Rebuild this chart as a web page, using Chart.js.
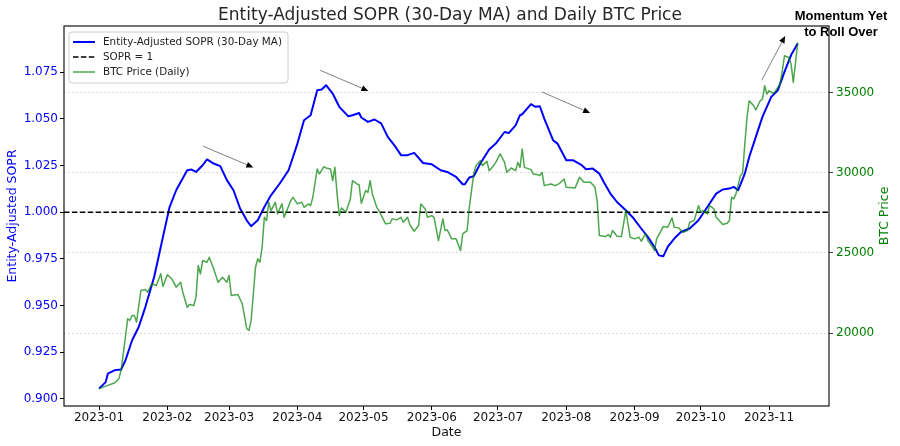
<!DOCTYPE html>
<html><head><meta charset="utf-8">
<script src="https://cdn.jsdelivr.net/npm/chart.js@4.4.0/dist/chart.umd.min.js"></script>
<style>html,body{margin:0;padding:0;background:#fff;}canvas{display:block;}</style>
</head><body>
<canvas id="c" width="900" height="446"></canvas>
<script>
// ---- DATA (x values are days since 2023-01-01) ----
const soprDays = [
  0,3,4,7,10,12,15,18,21,25,
  27,29,32,35,40,42,44,47,49,52,
  55,58,61,64,67,69,72,75,78,82,
  86,88,90,93,96,99,101,103,106,109,
  113,115,118,119,122,125,128,131,134,137,
  140,143,147,151,155,158,162,165,166,168,
  170,173,177,180,184,186,189,191,192,196,
  198,200,202,206,208,212,215,219,221,224,
  227,229,232,235,239,242,246,249,252,254,
  256,258,261,264,268,272,276,280,283,286,
  288,290,293,295,298,301,305,308,311,314,317];
const soprValues = [
  0.9055,0.9090,0.9135,0.9153,0.9157,0.9207,0.9314,0.9385,0.9492,0.9653,
  0.9760,0.9868,1.0028,1.0118,1.0225,1.0229,1.0216,1.0252,1.0283,1.0261,
  1.0247,1.0172,1.0118,1.0020,0.9957,0.9925,0.9957,1.0028,1.0091,1.0154,
  1.0225,1.0296,1.0368,1.0493,1.0520,1.0654,1.0658,1.0681,1.0636,1.0565,
  1.0515,1.0520,1.0532,1.0508,1.0484,1.0497,1.0476,1.0404,1.0359,1.0306,
  1.0306,1.0318,1.0264,1.0257,1.0225,1.0216,1.0189,1.0150,1.0150,1.0186,
  1.0193,1.0261,1.0336,1.0368,1.0430,1.0425,1.0466,1.0520,1.0525,1.0579,
  1.0565,1.0568,1.0502,1.0386,1.0368,1.0279,1.0279,1.0252,1.0231,1.0234,
  1.0207,1.0162,1.0100,1.0055,1.0011,0.9975,0.9913,0.9868,0.9814,0.9769,
  0.9764,0.9814,0.9859,0.9894,0.9913,0.9957,1.0028,1.0100,1.0122,1.0127,
  1.0136,1.0118,1.0207,1.0296,1.0404,1.0511,1.0618,1.0654,1.0752,1.0842,1.0904];
const btcDays = [
  0,4,7,9,10,11,13,14,15,16,
  17,19,21,22,24,26,28,29,31,33,
  35,37,38,40,41,43,44,45,46,47,
  49,50,52,54,56,58,59,60,63,65,
  67,68,69,71,72,73,74,75,76,77,
  78,80,81,83,84,87,88,90,92,93,
  95,96,97,99,100,102,103,105,106,107,
  108,109,110,112,114,115,117,118,119,121,
  122,123,124,126,127,130,132,133,135,137,
  138,140,141,143,145,146,148,149,151,152,
  154,156,157,158,160,162,164,165,167,168,
  170,171,173,174,176,177,179,180,182,184,
  185,187,189,190,191,192,193,196,197,199,
  200,201,202,205,207,209,211,212,216,218,
  220,223,225,226,227,230,231,232,233,235,
  237,239,240,241,243,245,246,248,249,251,
  252,253,255,256,258,260,261,263,265,267,
  268,270,272,273,274,276,277,279,280,283,
  285,286,287,288,289,291,292,293,294,295,
  297,298,300,301,302,303,304,306,307,309,
  310,311,313,314,315,317];
const btcValues = [
  16537,16743,16886,17160,17676,18716,20894,20788,21100,21100,
  20683,22656,22718,22550,23073,22967,23695,22905,23633,23384,
  22861,23172,22550,21616,21784,21722,22239,24212,23695,24523,
  24417,24728,24006,23172,23484,23172,23589,22344,22407,21828,
  20272,20166,20788,24106,24629,24417,25351,27218,27012,28151,
  27635,28151,27430,28052,27218,28257,28463,28052,28151,27840,
  28052,27946,28463,30230,29919,30373,30293,30230,29502,30330,
  28674,27324,27803,27529,28363,29502,29297,29253,28089,28880,
  28774,29502,28674,27840,27635,26807,26844,27118,27056,27218,
  26907,27218,26764,26347,26701,28052,27741,27218,27324,27218,
  25768,27118,26390,26434,25873,25873,25145,26185,26390,27840,
  29919,30436,30747,30436,30703,30124,30436,30641,31164,30641,
  30019,30293,30124,30641,30330,31475,30330,30187,29919,29876,
  29813,30019,29191,29297,29191,29334,29608,29085,29048,29707,
  29396,29396,29085,28257,26079,26017,26141,25973,26390,26035,
  26017,27635,26807,25973,25873,25973,25724,26185,25768,25394,
  25145,25873,26390,26639,26595,27181,26595,26558,26284,26390,
  26907,27012,27946,27529,27635,27430,27946,27741,27218,26764,
  26844,27012,28463,28363,28674,29813,29956,31786,33442,34481,
  34170,33903,34481,34587,35415,34898,35104,34936,35104,35521,
  36348,37282,37176,36766,35620,38110];
const soprRefLevel = 1.0;
const monthDays = [0,31,59,90,120,151,181,212,243,273,304];
const monthLabels = ['2023-01','2023-02','2023-03','2023-04','2023-05','2023-06','2023-07','2023-08','2023-09','2023-10','2023-11'];
const soprTicks = [0.900,0.925,0.950,0.975,1.000,1.025,1.050,1.075];
const btcTicks = [20000,25000,30000,35000];
const seriesNames = ['Entity-Adjusted SOPR (30-Day MA)','SOPR = 1','BTC Price (Daily)'];
const chartTitle = 'Entity-Adjusted SOPR (30-Day MA) and Daily BTC Price';
const xTitle = 'Date', yTitle = 'Entity-Adjusted SOPR', y2Title = 'BTC Price';
const noteLines = ['Momentum Yet','to Roll Over'];
// arrows: [fromDay, fromSOPR, toDay, toSOPR]
const arrows = [[47.2,1.0354,70.0,1.0240],[100.3,1.0761,122.2,1.0650],[200.9,1.0645,222.8,1.0532],[300.7,1.0708,311.3,1.0944]];

// ---- STYLE ----
const X_MIN = -15.9, X_MAX = 331.2;
const BLUE = '#0000ff', GREEN_LINE = 'rgba(0,128,0,0.7)', GREEN = '#008000';
const FONT = "'DejaVu Sans', sans-serif";
const DASH = [5.5, 2.4];

const decor = {
  id: 'decor',
  afterDatasetsDraw(chart) {
    const {ctx, chartArea: a, scales} = chart;
    ctx.save();
    arrows.forEach(([x1, y1, x2, y2]) => {
      const p1x = scales.x.getPixelForValue(x1), p1y = scales.y.getPixelForValue(y1);
      const p2x = scales.x.getPixelForValue(x2), p2y = scales.y.getPixelForValue(y2);
      const ang = Math.atan2(p2y - p1y, p2x - p1x);
      const L = 7, W = 3;
      const bx = p2x - L * Math.cos(ang), by = p2y - L * Math.sin(ang);
      ctx.strokeStyle = '#808080'; ctx.lineWidth = 1; ctx.setLineDash([]);
      ctx.beginPath(); ctx.moveTo(p1x, p1y); ctx.lineTo(bx, by); ctx.stroke();
      ctx.fillStyle = '#000';
      ctx.beginPath(); ctx.moveTo(p2x, p2y);
      ctx.lineTo(bx - W * Math.sin(ang), by + W * Math.cos(ang));
      ctx.lineTo(bx + W * Math.sin(ang), by - W * Math.cos(ang));
      ctx.closePath(); ctx.fill();
    });
    ctx.strokeStyle = '#000'; ctx.lineWidth = 1.1;
    ctx.strokeRect(a.left, a.top, a.right - a.left, a.bottom - a.top);
    ctx.restore();
  },
  afterDraw(chart) {
    const {ctx, chartArea: a} = chart;
    ctx.save();
    const lx = a.left + 5, ly = a.top + 6, lw = 219, lh = 51;
    ctx.beginPath();
    ctx.roundRect(lx, ly, lw, lh, 3);
    ctx.fillStyle = 'rgba(255,255,255,0.85)'; ctx.fill();
    ctx.strokeStyle = '#cccccc'; ctx.lineWidth = 1; ctx.stroke();
    const rows = [
      {c: BLUE, w: 2, d: []},
      {c: '#000', w: 1.5, d: DASH},
      {c: GREEN_LINE, w: 1.5, d: []}
    ];
    ctx.font = '10.4px ' + FONT; ctx.textBaseline = 'middle'; ctx.textAlign = 'left';
    rows.forEach((r, i) => {
      const y = ly + 10 + i * 15;
      ctx.strokeStyle = r.c; ctx.lineWidth = r.w; ctx.setLineDash(r.d);
      ctx.beginPath(); ctx.moveTo(lx + 4, y); ctx.lineTo(lx + 26, y); ctx.stroke();
      ctx.setLineDash([]);
      ctx.fillStyle = '#222';
      ctx.fillText(seriesNames[i], lx + 34, y);
    });
    ctx.save();
    ctx.translate(885, (a.top + a.bottom) / 2);
    ctx.rotate(-Math.PI / 2);
    ctx.font = '12.5px ' + FONT; ctx.fillStyle = GREEN;
    ctx.textAlign = 'center'; ctx.textBaseline = 'middle';
    ctx.fillText(y2Title, 0, 0);
    ctx.restore();
    ctx.font = "bold 13px 'Liberation Sans', Arial, sans-serif";
    ctx.fillStyle = '#000'; ctx.textAlign = 'center'; ctx.textBaseline = 'middle';
    ctx.fillText(noteLines[0], 841, 16.5);
    ctx.fillText(noteLines[1], 841, 32.5);
    ctx.restore();
  }
};

const ctx = document.getElementById('c').getContext('2d');
new Chart(ctx, {
  type: 'line',
  data: {
    datasets: [
      {
        label: seriesNames[2],
        data: btcDays.map((d, i) => ({x: d, y: btcValues[i]})),
        yAxisID: 'y2', borderColor: GREEN_LINE, borderWidth: 1.5,
        pointRadius: 0, tension: 0, borderJoinStyle: 'round', order: 0
      },
      {
        label: seriesNames[1],
        data: [{x: X_MIN, y: soprRefLevel}, {x: X_MAX, y: soprRefLevel}],
        yAxisID: 'y', borderColor: '#000', borderWidth: 1.6, borderDash: DASH,
        pointRadius: 0, order: 1
      },
      {
        label: seriesNames[0],
        data: soprDays.map((d, i) => ({x: d, y: soprValues[i]})),
        yAxisID: 'y', borderColor: BLUE, borderWidth: 2,
        pointRadius: 0, tension: 0, borderJoinStyle: 'round', order: 2
      }
    ]
  },
  options: {
    responsive: false, animation: false, devicePixelRatio: 1, events: [],
    layout: {padding: 0},
    plugins: {
      legend: {display: false}, tooltip: {enabled: false},
      title: {display: true, text: chartTitle, color: '#262626',
        font: {family: FONT, size: 17, weight: 'normal'}, padding: {top: 5.6, bottom: 0}}
    },
    scales: {
      x: {
        type: 'linear', min: X_MIN, max: X_MAX,
        afterBuildTicks: s => { s.ticks = monthDays.map(v => ({value: v})); },
        afterFit: s => { s.height = 40; },
        ticks: {
          callback: v => monthLabels[monthDays.indexOf(v)],
          color: '#111', font: {family: FONT, size: 12}, padding: 0.5,
          maxRotation: 0, autoSkip: false
        },
        grid: {drawOnChartArea: false, drawTicks: true, tickLength: 4, tickColor: '#000', tickWidth: 1},
        border: {display: false},
        title: {display: true, text: xTitle, color: '#111', font: {family: FONT, size: 12.5}, padding: {top: 0, bottom: 6}}
      },
      y: {
        type: 'linear', position: 'left', min: 0.8962, max: 1.0998,
        afterBuildTicks: s => { s.ticks = soprTicks.map(v => ({value: v})); },
        afterFit: s => { s.width = 64; },
        ticks: {callback: v => v.toFixed(3), color: BLUE, font: {family: FONT, size: 12}, padding: 2},
        grid: {drawOnChartArea: false, drawTicks: true, tickLength: 4, tickColor: '#000', tickWidth: 1},
        border: {display: false},
        title: {display: true, text: yTitle, color: BLUE, font: {family: FONT, size: 12.5}, padding: {top: 5, bottom: 0}}
      },
      y2: {
        type: 'linear', position: 'right', min: 15456, max: 39140,
        afterBuildTicks: s => { s.ticks = btcTicks.map(v => ({value: v})); },
        afterFit: s => { s.width = 71; },
        ticks: {callback: v => String(v), color: GREEN, font: {family: FONT, size: 12}, padding: 3},
        grid: {drawOnChartArea: true, drawTicks: true, tickLength: 4, color: 'rgba(170,170,170,0.6)', lineWidth: 0.9,
          tickColor: '#444', tickWidth: 1, tickBorderDash: []},
        border: {display: false, dash: [1.5, 2.5]}
      }
    }
  },
  plugins: [decor]
});
</script>
</body></html>
